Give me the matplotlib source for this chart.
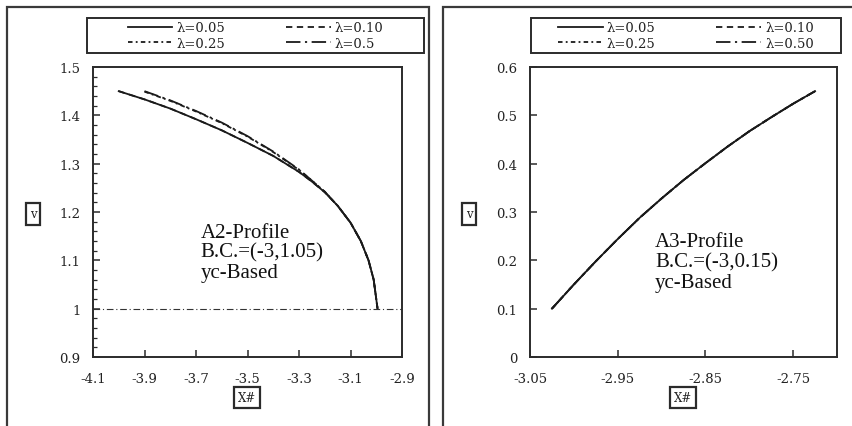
import matplotlib
matplotlib.use("Agg")
import matplotlib.pyplot as plt
from matplotlib.patches import Rectangle
from matplotlib.ticker import FixedLocator, MultipleLocator

# ---- data -------------------------------------------------------------
lambdas_left = ["λ=0.05", "λ=0.10", "λ=0.25", "λ=0.5"]
lambdas_right = ["λ=0.05", "λ=0.10", "λ=0.25", "λ=0.50"]

# A2 profile, B.C. = (-3, 1.05)
a2_x_low = [-4.0, -3.9, -3.8, -3.7, -3.6, -3.5, -3.4, -3.3, -3.25, -3.2,
            -3.15, -3.1, -3.06, -3.03, -3.01, -3.0, -2.995]
a2_v_low = [1.450, 1.433, 1.414, 1.392, 1.369, 1.343, 1.316, 1.283, 1.263,
            1.241, 1.213, 1.178, 1.140, 1.100, 1.060, 1.020, 1.000]
a2_x_high = [-3.9, -3.8, -3.7, -3.6, -3.5, -3.4, -3.3, -3.25, -3.2, -3.15,
             -3.1, -3.06, -3.03, -3.01, -3.0, -2.995]
a2_v_high = [1.450, 1.431, 1.409, 1.385, 1.357, 1.325, 1.288, 1.265, 1.242,
             1.213, 1.178, 1.140, 1.100, 1.060, 1.020, 1.000]
a2_v_high2 = [1.449, 1.430, 1.408, 1.384, 1.356, 1.324, 1.287, 1.265, 1.242,
              1.213, 1.178, 1.140, 1.100, 1.060, 1.020, 1.000]
critical_v = 1.0

# A3 profile, B.C. = (-3, 0.15)
a3_x = [-3.025, -3.0, -2.975, -2.95, -2.925, -2.9, -2.875, -2.85, -2.825,
        -2.8, -2.775, -2.75, -2.725]
a3_v = [0.100, 0.150, 0.198, 0.244, 0.288, 0.328, 0.366, 0.401, 0.435,
        0.467, 0.496, 0.524, 0.550]

left_xticks = [-4.1, -3.9, -3.7, -3.5, -3.3, -3.1, -2.9]
left_yticks = [0.9, 1.0, 1.1, 1.2, 1.3, 1.4, 1.5]
right_xticks = [-3.05, -2.95, -2.85, -2.75]
right_yticks = [0.0, 0.1, 0.2, 0.3, 0.4, 0.5, 0.6]

# ---- styling ------------------------------------------------------------
W, H = 853, 427
DARK = "#2b2b2b"
TICKFONT = dict(family="DejaVu Serif", size=9.5, color="#222222")
styles = [
    dict(ls="-"),
    dict(ls=(0, (3.5, 2.5))),
    dict(ls=(0, (2.5, 1.8, 1, 1.8))),
    dict(ls=(0, (8, 2.5, 1.2, 2.5))),
]

fig = plt.figure(figsize=(W / 100, H / 100), dpi=100)


def fx(px):
    return px / W


def fy(py):
    return 1 - py / H


def frame(x0, y0, x1, y1, lw=1.6, ec="#3a3a3a"):
    fig.patches.append(Rectangle((fx(x0), fy(y1)), fx(x1 - x0), (y1 - y0) / H,
                                 transform=fig.transFigure, fill=False,
                                 ec=ec, lw=lw, clip_on=False))


# panel frames
frame(7, 8, 429, 440)
frame(443, 8, 870, 440)


def style_axes(ax):
    for s in ax.spines.values():
        s.set_color(DARK)
        s.set_linewidth(1.4)
    ax.tick_params(direction="in", length=5, width=1.1, color=DARK,
                   top=False, right=False, pad=9)
    ax.tick_params(axis="x", pad=11)
    for lab in ax.get_xticklabels() + ax.get_yticklabels():
        lab.set_fontfamily(TICKFONT["family"])
        lab.set_fontsize(TICKFONT["size"])
        lab.set_color(TICKFONT["color"])


def fmt(v):
    return f"{v:g}"


def add_legend(ax, labels, lines, box):
    # entries read row by row: matplotlib fills columns first, so reorder
    order = [0, 2, 1, 3]
    x0, y0, x1, y1 = box
    frame(x0, y0, x1, y1, lw=1.4, ec=DARK)
    leg = ax.legend([lines[i] for i in order], [labels[i] for i in order],
                    ncol=2, loc="center",
                    bbox_to_anchor=(fx(x0), fy(y1), fx(x1 - x0), (y1 - y0) / H),
                    bbox_transform=fig.transFigure, frameon=False,
                    handlelength=3.4, handletextpad=0.3, columnspacing=4.6,
                    labelspacing=0.2, borderpad=0.1,
                    prop=dict(family="DejaVu Serif", size=9.5))
    for t in leg.get_texts():
        t.set_color("#222222")
    return leg


def boxed(px, py, text):
    fig.text(fx(px), fy(py), text, ha="center", va="center",
             family="DejaVu Serif", size=8.5, color="#222222",
             bbox=dict(boxstyle="square,pad=0.35", fc="white", ec=DARK, lw=1.6))


# ---- left: A2 profile ---------------------------------------------------
axL = fig.add_axes([fx(93), fy(358), fx(402 - 93), (358 - 68) / H])
series_L = [(a2_x_low, a2_v_low), (a2_x_low, a2_v_low),
            (a2_x_high, a2_v_high2), (a2_x_high, a2_v_high)]
linesL = []
for (xs, vs), st in zip(series_L, styles):
    ln, = axL.plot(xs, vs, color="#1a1a1a", lw=1.3, **st)
    linesL.append(ln)
axL.axhline(critical_v, color="#333333", lw=0.8, ls=(0, (6, 2.5, 1, 2.5)))
axL.set_xlim(-4.1, -2.9)
axL.set_ylim(0.9, 1.5)
axL.xaxis.set_major_locator(FixedLocator(left_xticks))
axL.yaxis.set_major_locator(FixedLocator(left_yticks))
axL.yaxis.set_minor_locator(MultipleLocator(0.02))
axL.set_xticklabels([fmt(v) for v in left_xticks])
axL.set_yticklabels([fmt(v) for v in left_yticks])
style_axes(axL)
axL.tick_params(axis="y", which="minor", direction="in", length=3,
                width=0.9, color=DARK, right=False)
axL.text(0.348, 0.463, "A2-Profile\nB.C.=(-3,1.05)\nyc-Based",
         transform=axL.transAxes, ha="left", va="top",
         family="Liberation Serif", size=15, color="#111111", linespacing=1.07)
add_legend(axL, lambdas_left, linesL, (87, 19, 424, 54))

# ---- right: A3 profile --------------------------------------------------
axR = fig.add_axes([fx(530), fy(358), fx(837 - 530), (358 - 68) / H])
linesR = []
for st in styles:
    ln, = axR.plot(a3_x, a3_v, color="#1a1a1a", lw=1.3, **st)
    linesR.append(ln)
axR.set_xlim(-3.05, -2.70)
axR.set_ylim(0.0, 0.6)
axR.xaxis.set_major_locator(FixedLocator(right_xticks))
axR.yaxis.set_major_locator(FixedLocator(right_yticks))
axR.set_xticklabels([fmt(v) for v in right_xticks])
axR.set_yticklabels([fmt(v) for v in right_yticks])
style_axes(axR)
axR.text(0.407, 0.43, "A3-Profile\nB.C.=(-3,0.15)\nyc-Based",
         transform=axR.transAxes, ha="left", va="top",
         family="Liberation Serif", size=15, color="#111111", linespacing=1.1)
add_legend(axR, lambdas_right, linesR, (531, 19, 841, 54))

# axis captions
boxed(33, 215, "v")
boxed(469, 215, "v")
boxed(247, 398.5, "X#")
boxed(683, 398.5, "X#")

fig.savefig("out.png", dpi=100, facecolor="white")
